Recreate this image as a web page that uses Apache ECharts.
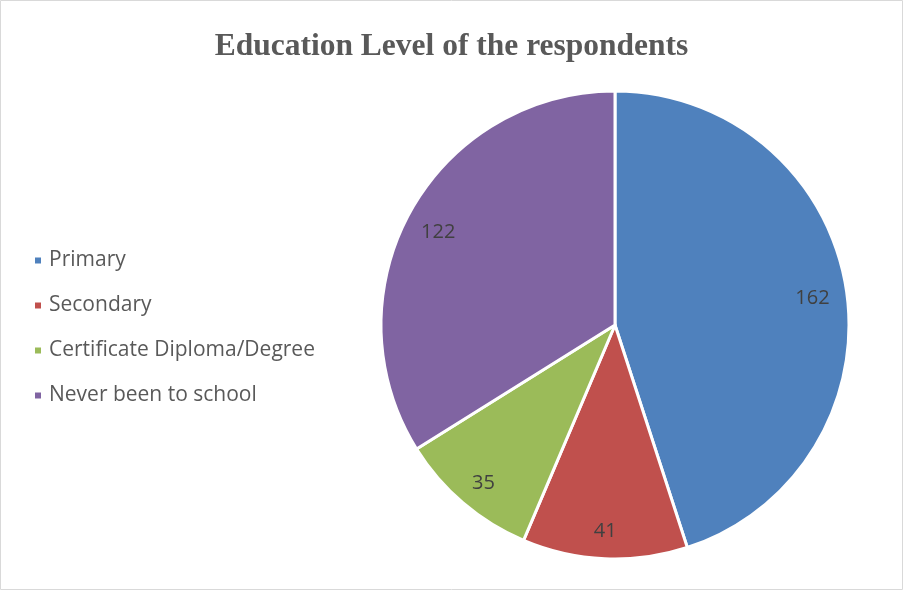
<!DOCTYPE html>
<html>
<head>
<meta charset="utf-8">
<script src="https://cdn.jsdelivr.net/npm/echarts@6/dist/echarts.min.js"></script>
<style>
  html, body { margin: 0; padding: 0; background: #fff; }
  #main { width: 903px; height: 590px; }
</style>
</head>
<body>
<div id="main"></div>
<script>
// chart data
var categories = ['Primary', 'Secondary', 'Certificate Diploma/Degree', 'Never been to school'];
var counts = [162, 41, 35, 122];
var colors = ['#4F81BD', '#C0504D', '#9BBB59', '#8064A2'];

var pieData = categories.map(function (name, i) {
  return { name: name, value: counts[i], itemStyle: { color: colors[i] } };
});

var chartDom = document.getElementById('main');
var myChart = echarts.init(chartDom, null, { devicePixelRatio: 1, width: 903, height: 590 });

var option = {
  animation: false,
  title: {
    text: 'Education Level of the respondents',
    left: 'center',
    top: 26,
    textStyle: {
      fontFamily: 'Liberation Serif',
      fontWeight: 'bold',
      fontSize: 31.5,
      color: '#595959'
    }
  },
  legend: {
    orient: 'vertical',
    left: 28,
    top: 245,
    icon: 'rect',
    itemWidth: 8,
    itemHeight: 8,
    itemGap: 24,
    data: categories,
    textStyle: {
      fontFamily: 'Open Sans',
      fontSize: 21,
      color: '#595959',
      padding: [0, 0, 0, 2]
    }
  },
  graphic: [{
    type: 'rect',
    silent: true,
    shape: { x: 0.5, y: 0.5, width: 902, height: 589 },
    style: { fill: 'none', stroke: '#d9d9d9', lineWidth: 1 }
  }],
  series: [
    {
      name: 'Education',
      type: 'pie',
      center: [615, 325],
      radius: [0, 234],
      startAngle: 90,
      clockwise: true,
      label: { show: false },
      labelLine: { show: false },
      itemStyle: { borderColor: '#fff', borderWidth: 3 },
      emphasis: { disabled: true },
      data: pieData
    },
    {
      // transparent ring only used to place the value labels near the rim
      name: 'labels',
      type: 'pie',
      center: [614, 330],
      radius: [182, 214],
      startAngle: 90,
      clockwise: true,
      silent: true,
      itemStyle: { color: 'rgba(0,0,0,0)', borderWidth: 0 },
      label: {
        show: true,
        position: 'inside',
        formatter: '{c}',
        fontFamily: 'Open Sans',
        fontSize: 20,
        color: '#404040'
      },
      labelLine: { show: false },
      emphasis: { disabled: true },
      data: pieData.map(function (d) {
        return { name: d.name, value: d.value, itemStyle: { color: 'rgba(0,0,0,0)' } };
      })
    }
  ]
};

option && myChart.setOption(option);
</script>
</body>
</html>
